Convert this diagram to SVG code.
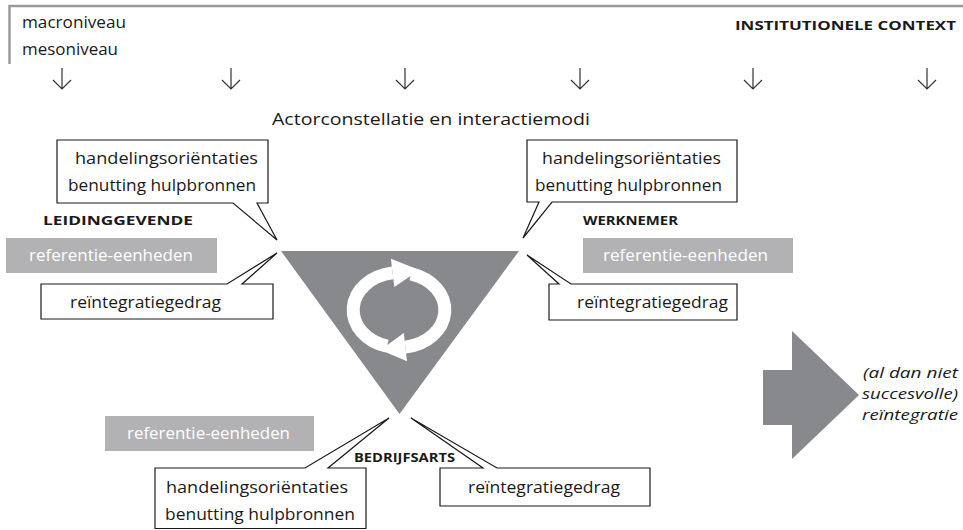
<svg xmlns="http://www.w3.org/2000/svg" width="963" height="530" viewBox="0 0 963 530">
<style>
  .t { font-family: "Open Sans", "Noto Sans", sans-serif; font-size: 16px; fill: #1a1a1a; }
  .box { font-family: "Open Sans", "Noto Sans", sans-serif; font-size: 17px; fill: #1a1a1a; }
  .ref { font-family: "Open Sans", "Noto Sans", sans-serif; font-size: 17px; fill: #ffffff; }
  .cap { font-family: "Open Sans", "Noto Sans", sans-serif; font-size: 12px; font-weight: bold; fill: #1a1a1a; }
  .it { font-family: "Open Sans", "Noto Sans", sans-serif; font-size: 15px; font-style: italic; fill: #1a1a1a; }
  .call { fill: #ffffff; stroke: #1a1a1a; stroke-width: 1.2; stroke-linejoin: miter; }
  .grey { fill: #b2b2b4; }
  .dark { fill: #88898c; }
  .ring { fill: none; stroke: #ffffff; stroke-width: 13; }
  .down { fill: none; stroke: #333333; stroke-width: 1.2; }
</style>
<defs>
  <path id="darrow" d="M0,68 V89 M-9,80 L0,89 L9,80"/>
</defs>

<g id="context">
  <path d="M9.5,64 V6 H963" fill="none" stroke="#9a9a9a" stroke-width="2.5"/>
  <text class="t" x="22" y="28" textLength="104" lengthAdjust="spacingAndGlyphs">macroniveau</text>
  <text class="t" x="22" y="55" textLength="96" lengthAdjust="spacingAndGlyphs">mesoniveau</text>
  <text class="cap" x="735" y="30" font-size="14" textLength="221" lengthAdjust="spacingAndGlyphs">INSTITUTIONELE CONTEXT</text>
</g>

<g id="connectors" class="down">
  <use href="#darrow" x="62"/>
  <use href="#darrow" x="231"/>
  <use href="#darrow" x="405"/>
  <use href="#darrow" x="580"/>
  <use href="#darrow" x="753"/>
  <use href="#darrow" x="927"/>
</g>

<g id="title">
  <text class="t" x="272" y="125" font-size="18" textLength="318" lengthAdjust="spacingAndGlyphs">Actorconstellatie en interactiemodi</text>
</g>

<g id="interactie">
  <polygon class="dark" points="281,251 519,251 399.5,414"/>
  <path class="ring" d="M387.1,346.2 A46,37.5 0 0 1 392.6,272.9"/>
  <polygon fill="#ffffff" points="394.3,287 390.9,258.8 419.4,269.9"/>
  <path class="ring" d="M410.9,273.8 A46,37.5 0 0 1 405.4,347.1"/>
  <polygon fill="#ffffff" points="407,361.2 403.8,333 380.5,349.9"/>
</g>

<g id="leidinggevende">
  <path class="call" d="M57,140 H268 V203 H257 L277,240 L233,203 H57 Z"/>
  <text class="box" x="75" y="164" textLength="183" lengthAdjust="spacingAndGlyphs">handelingsoriëntaties</text>
  <text class="box" x="68" y="191" textLength="188" lengthAdjust="spacingAndGlyphs">benutting hulpbronnen</text>
  <text class="cap" x="43" y="225" textLength="150" lengthAdjust="spacingAndGlyphs">LEIDINGGEVENDE</text>
  <rect class="grey" x="6" y="238" width="211" height="35"/>
  <text class="ref" x="29" y="261" textLength="164" lengthAdjust="spacingAndGlyphs">referentie-eenheden</text>
  <path class="call" d="M41,284 H227 L277,253 L242,284 H273 V319 H41 Z"/>
  <text class="box" x="70" y="308" textLength="151" lengthAdjust="spacingAndGlyphs">reïntegratiegedrag</text>
</g>

<g id="werknemer">
  <path class="call" d="M527,140 H737 V202 H552 L523,238 L539,202 H527 Z"/>
  <text class="box" x="542" y="164" textLength="179" lengthAdjust="spacingAndGlyphs">handelingsoriëntaties</text>
  <text class="box" x="535" y="191" textLength="187" lengthAdjust="spacingAndGlyphs">benutting hulpbronnen</text>
  <text class="cap" x="583" y="225" textLength="95" lengthAdjust="spacingAndGlyphs">WERKNEMER</text>
  <rect class="grey" x="583" y="238" width="210" height="35"/>
  <text class="ref" x="603" y="261" textLength="165" lengthAdjust="spacingAndGlyphs">referentie-eenheden</text>
  <path class="call" d="M549,284 H559 L527,255 L571,284 H737 V320 H549 Z"/>
  <text class="box" x="577" y="308" textLength="151" lengthAdjust="spacingAndGlyphs">reïntegratiegedrag</text>
</g>

<g id="bedrijfsarts">
  <rect class="grey" x="105" y="416" width="209" height="35"/>
  <text class="ref" x="127" y="439" textLength="163" lengthAdjust="spacingAndGlyphs">referentie-eenheden</text>
  <text class="cap" x="354" y="462" textLength="101" lengthAdjust="spacingAndGlyphs">BEDRIJFSARTS</text>
  <path class="call" d="M155,468 H305 L389,418 L328,468 H366 V528.5 H155 Z"/>
  <text class="box" x="166" y="493" textLength="182" lengthAdjust="spacingAndGlyphs">handelingsoriëntaties</text>
  <text class="box" x="165" y="520" textLength="190" lengthAdjust="spacingAndGlyphs">benutting hulpbronnen</text>
  <path class="call" d="M440,468 H483 L411,418 L497,468 H650 V506 H440 Z"/>
  <text class="box" x="468" y="493" textLength="152" lengthAdjust="spacingAndGlyphs">reïntegratiegedrag</text>
</g>

<g id="uitkomst">
  <polygon class="dark" points="763,370 792,370 792,331 859,395 792,459 792,425 763,425"/>
  <text class="it" x="863" y="378" textLength="95" lengthAdjust="spacingAndGlyphs">(al dan niet</text>
  <text class="it" x="862" y="399" textLength="96" lengthAdjust="spacingAndGlyphs">succesvolle)</text>
  <text class="it" x="862" y="420" textLength="96" lengthAdjust="spacingAndGlyphs">reïntegratie</text>
</g>
</svg>
